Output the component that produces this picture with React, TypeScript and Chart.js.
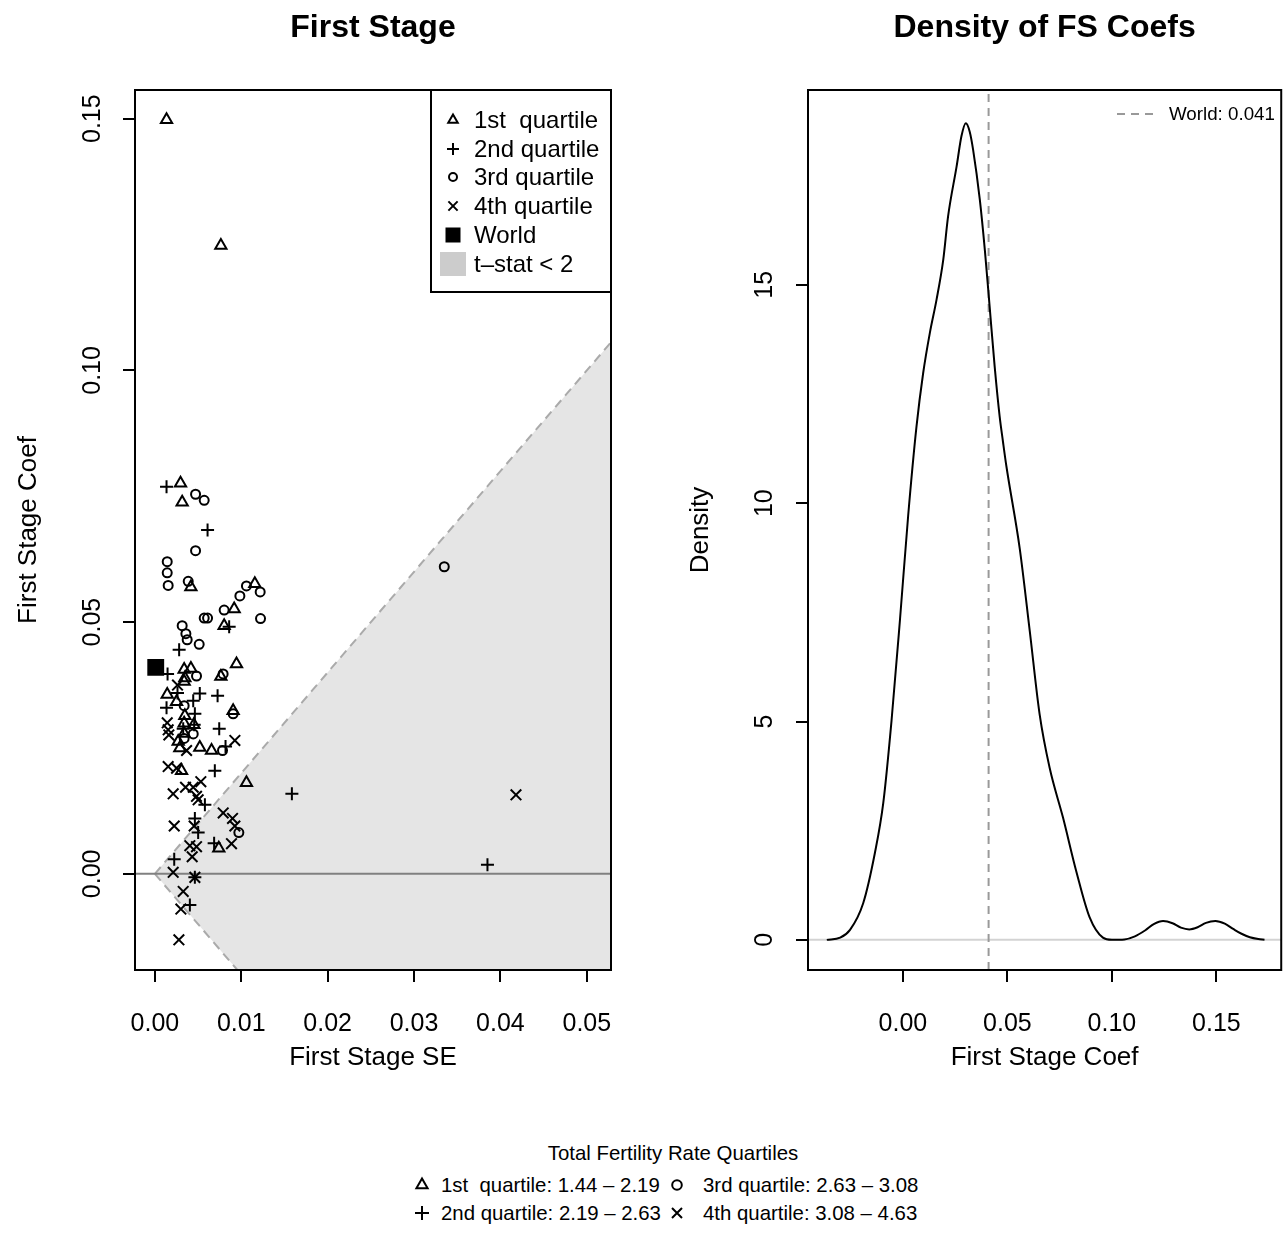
import React, { useEffect, useRef } from "react";
import { Chart, registerables } from "chart.js";

Chart.register(...registerables);

const FONT = "'Liberation Sans', Arial, Helvetica, sans-serif";
const BASE = 25;
const LAB = 26;

// ---------------- data: first stage scatter (SE, coef) ----------------
const q1SE = [0.00135, 0.00764, 0.00297, 0.00316, 0.00417, 0.01157, 0.00918, 0.00802, 0.00945, 0.00339, 0.00417, 0.00347, 0.00764, 0.00339, 0.00143, 0.00251, 0.00906, 0.00347, 0.00339, 0.00451, 0.00339, 0.0027, 0.00289, 0.0052, 0.00656, 0.00309, 0.0106, 0.0074];
const q1Coef = [0.1498, 0.1248, 0.0776, 0.0738, 0.057, 0.0576, 0.0526, 0.0493, 0.0417, 0.0406, 0.0408, 0.0389, 0.0392, 0.0382, 0.0356, 0.0342, 0.0324, 0.0314, 0.0299, 0.0296, 0.0279, 0.0263, 0.025, 0.0251, 0.0245, 0.0205, 0.0181, 0.0051];

const q2SE = [0.00135, 0.0061, 0.0086, 0.00281, 0.00147, 0.00262, 0.0052, 0.00726, 0.00444, 0.00135, 0.00463, 0.00328, 0.00745, 0.00455, 0.00818, 0.00694, 0.00579, 0.00463, 0.00501, 0.00686, 0.00224, 0.00463, 0.00405, 0.01586, 0.0385];
const q2Coef = [0.0769, 0.0683, 0.0491, 0.0445, 0.0397, 0.0359, 0.0358, 0.0354, 0.0344, 0.033, 0.0318, 0.0288, 0.0288, 0.0296, 0.0253, 0.0205, 0.0137, 0.011, 0.0082, 0.0061, 0.0029, -0.0007, -0.0062, 0.0159, 0.0018];

const q3SE = [0.00471, 0.00571, 0.00471, 0.00143, 0.00143, 0.00154, 0.00386, 0.0106, 0.00984, 0.01219, 0.00802, 0.01223, 0.00571, 0.0061, 0.00316, 0.00359, 0.00374, 0.00513, 0.00482, 0.0079, 0.00339, 0.00906, 0.00444, 0.00339, 0.00783, 0.00972, 0.0335];
const q3Coef = [0.0754, 0.0742, 0.0642, 0.062, 0.0598, 0.0573, 0.0581, 0.0572, 0.0552, 0.056, 0.0524, 0.0507, 0.0508, 0.0508, 0.0493, 0.0477, 0.0465, 0.0456, 0.0393, 0.0397, 0.0334, 0.0318, 0.0278, 0.0269, 0.0245, 0.0082, 0.061];

const q4SE = [0.00262, 0.00143, 0.00154, 0.00162, 0.00926, 0.00367, 0.00154, 0.00251, 0.00355, 0.00444, 0.00532, 0.00212, 0.00482, 0.00501, 0.00791, 0.00899, 0.00926, 0.00224, 0.00455, 0.00405, 0.00482, 0.00887, 0.00432, 0.00212, 0.00463, 0.00328, 0.00301, 0.00278, 0.0418];
const q4Coef = [0.0375, 0.03, 0.0286, 0.0276, 0.0265, 0.0245, 0.0213, 0.021, 0.0172, 0.0172, 0.0183, 0.0159, 0.0154, 0.0147, 0.0121, 0.011, 0.0095, 0.0095, 0.0095, 0.0056, 0.0054, 0.006, 0.0034, 0.0003, -0.0007, -0.0035, -0.007, -0.0131, 0.0157];

const worldSE = [0.0001];
const worldCoef = [0.041];
const WORLD_COEF = 0.041;
const T_STAT = 2;

// ---------------- data: density of first stage coefficients ----------------
const densityX = [-0.0364, -0.03, -0.0253, -0.019, -0.0134, -0.0094, -0.0054, -0.0014, 0.0025, 0.0065, 0.0097, 0.0129, 0.0161, 0.0193, 0.0216, 0.0257, 0.028, 0.0301, 0.032, 0.0336, 0.0368, 0.0392, 0.0415, 0.0439, 0.0463, 0.0479, 0.0495, 0.0559, 0.0607, 0.0654, 0.0702, 0.0766, 0.083, 0.0893, 0.0957, 0.1, 0.106, 0.111, 0.116, 0.12, 0.1245, 0.129, 0.133, 0.137, 0.141, 0.145, 0.1495, 0.154, 0.158, 0.162, 0.166, 0.17, 0.173];
const densityY = [0, 0.05, 0.23, 0.84, 1.99, 3.13, 5.04, 7.33, 9.7, 11.75, 12.98, 13.9, 14.66, 15.57, 16.56, 17.71, 18.4, 18.7, 18.5, 18.09, 16.95, 15.8, 14.5, 13.13, 11.98, 11.4, 10.85, 8.96, 7.07, 5.17, 3.94, 2.8, 1.56, 0.52, 0.05, 0.0, 0.01, 0.08, 0.22, 0.36, 0.43, 0.38, 0.28, 0.24, 0.29, 0.39, 0.43, 0.37, 0.25, 0.14, 0.06, 0.02, 0.005];

// ---------------- ticks & labels ----------------
const scatterXTicks = [0, 0.01, 0.02, 0.03, 0.04, 0.05];
const scatterYTicks = [0, 0.05, 0.1, 0.15];
const densityXTicks = [0, 0.05, 0.1, 0.15];
const densityYTicks = [0, 5, 10, 15];

const quartileLabels = ["1st  quartile", "2nd quartile", "3rd quartile", "4th quartile"];
const quartileRanges = ["1.44 – 2.19", "2.19 – 2.63", "2.63 – 3.08", "3.08 – 4.63"];
const quartileStyles = ["triangle", "cross", "circle", "crossRot"];

// axis limits
const S_X_MIN = -0.0023, S_X_MAX = 0.0528, S_Y_MIN = -0.0191, S_Y_MAX = 0.1557;
const D_X_MIN = -0.0454, D_X_MAX = 0.181, D_Y_MIN = -0.69, D_Y_MAX = 19.46;

function pts(xs: number[], ys: number[]) {
  return xs.map((x, i) => ({ x, y: ys[i] }));
}

function drawMark(ctx: CanvasRenderingContext2D, kind: string, x: number, y: number, r: number) {
  ctx.save();
  ctx.strokeStyle = "#000";
  ctx.fillStyle = "#000";
  ctx.lineWidth = 2;
  ctx.beginPath();
  if (kind === "triangle") {
    ctx.moveTo(x, y - r);
    ctx.lineTo(x + r * 0.866, y + r * 0.5);
    ctx.lineTo(x - r * 0.866, y + r * 0.5);
    ctx.closePath();
    ctx.stroke();
  } else if (kind === "cross") {
    ctx.moveTo(x - r, y); ctx.lineTo(x + r, y);
    ctx.moveTo(x, y - r); ctx.lineTo(x, y + r);
    ctx.stroke();
  } else if (kind === "circle") {
    ctx.arc(x, y, r, 0, Math.PI * 2);
    ctx.stroke();
  } else if (kind === "crossRot") {
    const d = r * 0.707;
    ctx.moveTo(x - d, y - d); ctx.lineTo(x + d, y + d);
    ctx.moveTo(x + d, y - d); ctx.lineTo(x - d, y + d);
    ctx.stroke();
  } else if (kind === "rect") {
    ctx.fillRect(x - r, y - r, 2 * r, 2 * r);
  }
  ctx.restore();
}

const boxPlugin = {
  id: "box",
  afterDraw(chart: any) {
    const { ctx, chartArea: a } = chart;
    ctx.save();
    ctx.strokeStyle = "#000";
    ctx.lineWidth = 2;
    ctx.strokeRect(a.left, a.top, a.right - a.left, a.bottom - a.top);
    ctx.restore();
  },
};

const scatterLegendPlugin = {
  id: "scatterLegend",
  afterDraw(chart: any) {
    const { ctx, chartArea: a } = chart;
    const left = 431;
    const bottom = 292;
    ctx.save();
    ctx.fillStyle = "#fff";
    ctx.fillRect(left, a.top, a.right - left, bottom - a.top);
    ctx.strokeStyle = "#000";
    ctx.lineWidth = 2;
    ctx.strokeRect(left, a.top, a.right - left, bottom - a.top);
    const rows = [120, 149, 177, 206, 235, 264];
    const symX = 453;
    const textX = 474;
    const labels = [...quartileLabels, "World", "t–stat < 2"];
    const sizes = [5.5, 6, 4, 6.5];
    for (let i = 0; i < 4; i++) drawMark(ctx, quartileStyles[i], symX, rows[i], sizes[i]);
    drawMark(ctx, "rect", symX, rows[4], 7.5);
    ctx.fillStyle = "#cccccc";
    ctx.fillRect(symX - 13, rows[5] - 12, 26, 24);
    ctx.fillStyle = "#000";
    ctx.font = `24px ${FONT}`;
    ctx.textAlign = "left";
    ctx.textBaseline = "middle";
    labels.forEach((t, i) => ctx.fillText(t, textX, rows[i] + 1));
    ctx.restore();
  },
};

const densityLegendPlugin = {
  id: "densityLegend",
  afterDraw(chart: any) {
    const { ctx } = chart;
    const y = 114;
    ctx.save();
    ctx.strokeStyle = "#999";
    ctx.lineWidth = 2;
    ctx.setLineDash([8, 6]);
    ctx.beginPath();
    ctx.moveTo(457, y);
    ctx.lineTo(494, y);
    ctx.stroke();
    ctx.setLineDash([]);
    ctx.fillStyle = "#000";
    ctx.font = `18.75px ${FONT}`;
    ctx.textAlign = "left";
    ctx.textBaseline = "middle";
    ctx.fillText(`World: ${WORLD_COEF.toFixed(3)}`, 509, y + 1);
    ctx.restore();
  },
};

function axisCommon(ticksArr: number[], fmt: (v: number) => string, size: { w?: number; h?: number }, padding: number, rot: number, titleText: string, titlePad: any) {
  return {
    type: "linear" as const,
    afterBuildTicks: (s: any) => {
      s.ticks = ticksArr.map((v) => ({ value: v }));
    },
    afterFit: (s: any) => {
      if (size.w !== undefined) s.width = size.w;
      if (size.h !== undefined) s.height = size.h;
    },
    grid: { drawOnChartArea: false, drawTicks: true, tickLength: 12, color: "#000", lineWidth: 2 },
    border: { display: false },
    ticks: {
      color: "#000",
      font: { family: FONT, size: BASE },
      padding,
      autoSkip: false,
      minRotation: rot,
      maxRotation: rot,
      crossAlign: "center" as const,
      includeBounds: false,
      callback: (v: any) => fmt(Number(v)),
    },
    title: { display: true, text: titleText, color: "#000", font: { family: FONT, size: LAB }, padding: titlePad },
  };
}

function ScatterChart() {
  const ref = useRef<HTMLCanvasElement | null>(null);
  useEffect(() => {
    if (!ref.current) return;
    const mk = (label: string, xs: number[], ys: number[], style: string, r: number, fill = "rgba(0,0,0,0)") => ({
      type: "line" as const,
      label,
      data: pts(xs, ys),
      showLine: false,
      pointStyle: style,
      pointRadius: r,
      pointBorderWidth: 2,
      pointBorderColor: "#000",
      pointBackgroundColor: fill,
      order: 1,
    });
    const chart = new Chart(ref.current, {
      type: "line",
      data: {
        datasets: [
          mk("World", worldSE, worldCoef, "rect", 10.5, "#000"),
          mk(quartileLabels[3], q4SE, q4Coef, "crossRot", 7.5),
          mk(quartileLabels[2], q3SE, q3Coef, "circle", 4.5),
          mk(quartileLabels[1], q2SE, q2Coef, "cross", 6.5),
          mk(quartileLabels[0], q1SE, q1Coef, "triangle", 6.5),
          {
            type: "line",
            label: "zero",
            data: [{ x: S_X_MIN, y: 0 }, { x: S_X_MAX, y: 0 }],
            borderColor: "#808080",
            borderWidth: 2,
            pointRadius: 0,
            fill: false,
            order: 5,
          },
          {
            type: "line",
            label: "upper bound",
            data: [{ x: 0, y: 0 }, { x: S_X_MAX, y: T_STAT * S_X_MAX }],
            borderColor: "#aaaaaa",
            borderWidth: 2,
            borderDash: [9, 6],
            pointRadius: 0,
            fill: false,
            order: 6,
          },
          {
            type: "line",
            label: "lower bound",
            data: [{ x: 0, y: 0 }, { x: -S_Y_MIN / T_STAT, y: S_Y_MIN }],
            borderColor: "#aaaaaa",
            borderWidth: 2,
            borderDash: [9, 6],
            pointRadius: 0,
            fill: false,
            order: 6,
          },
          {
            type: "line",
            label: "t-stat < 2",
            data: [
              { x: 0, y: 0 },
              { x: S_X_MAX, y: T_STAT * S_X_MAX },
              { x: S_X_MAX, y: S_Y_MIN },
              { x: -S_Y_MIN / T_STAT, y: S_Y_MIN },
            ],
            borderColor: "rgba(0,0,0,0)",
            borderWidth: 0,
            backgroundColor: "#e5e5e5",
            fill: "shape",
            pointRadius: 0,
            order: 10,
          },
        ],
      } as any,
      options: {
        animation: false,
        responsive: false,
        events: [],
        layout: { padding: { left: 0, right: 49, top: 0, bottom: 0 } },
        plugins: {
          legend: { display: false },
          tooltip: { enabled: false },
          title: {
            display: true,
            text: "First Stage",
            color: "#000",
            fullSize: false,
            font: { family: FONT, size: 32, weight: "bold" },
            padding: { top: 9, bottom: 42.6 },
          },
        },
        scales: {
          x: { ...axisCommon(scatterXTicks, (v) => v.toFixed(2), { h: 103 }, 42, 0, "First Stage SE", { top: 0, bottom: 0 }), min: S_X_MIN, max: S_X_MAX },
          y: { ...axisCommon(scatterYTicks, (v) => v.toFixed(2), { w: 135 }, 6, 90, "First Stage Coef", { top: 13, bottom: 0 }), min: S_Y_MIN, max: S_Y_MAX },
        },
      } as any,
      plugins: [boxPlugin, scatterLegendPlugin],
    });
    return () => chart.destroy();
  }, []);
  return <canvas ref={ref} width={660} height={1073} style={{ position: "absolute", left: 0, top: 0 }} />;
}

function DensityChart() {
  const ref = useRef<HTMLCanvasElement | null>(null);
  useEffect(() => {
    if (!ref.current) return;
    const chart = new Chart(ref.current, {
      type: "line",
      data: {
        datasets: [
          {
            label: "density",
            data: pts(densityX, densityY),
            borderColor: "#000",
            borderWidth: 2,
            pointRadius: 0,
            cubicInterpolationMode: "monotone",
            fill: false,
            order: 1,
          },
          {
            label: "World",
            data: [{ x: WORLD_COEF, y: D_Y_MIN }, { x: WORLD_COEF, y: D_Y_MAX }],
            borderColor: "#999999",
            borderWidth: 2,
            borderDash: [8, 6],
            pointRadius: 0,
            fill: false,
            order: 2,
          },
          {
            label: "baseline",
            data: [{ x: D_X_MIN, y: 0 }, { x: D_X_MAX, y: 0 }],
            borderColor: "#d3d3d3",
            borderWidth: 2,
            pointRadius: 0,
            fill: false,
            order: 3,
          },
        ],
      } as any,
      options: {
        animation: false,
        responsive: false,
        events: [],
        layout: { padding: { left: 0, right: 1, top: 0, bottom: 0 } },
        plugins: {
          legend: { display: false },
          tooltip: { enabled: false },
          title: {
            display: true,
            text: "Density of FS Coefs",
            color: "#000",
            fullSize: false,
            font: { family: FONT, size: 32, weight: "bold" },
            padding: { top: 9, bottom: 42.6 },
          },
        },
        scales: {
          x: { ...axisCommon(densityXTicks, (v) => v.toFixed(2), { h: 103 }, 42, 0, "First Stage Coef", { top: 0, bottom: 0 }), min: D_X_MIN, max: D_X_MAX },
          y: { ...axisCommon(densityYTicks, (v) => String(Math.round(v)), { w: 148 }, 17, 90, "Density", { top: 25, bottom: 0 }), min: D_Y_MIN, max: D_Y_MAX },
        },
      } as any,
      plugins: [boxPlugin, densityLegendPlugin],
    });
    return () => chart.destroy();
  }, []);
  return <canvas ref={ref} width={623} height={1073} style={{ position: "absolute", left: 660, top: 0 }} />;
}

function Sym({ kind }: { kind: string }) {
  const s = 18;
  const c = s / 2;
  let el: any = null;
  if (kind === "triangle") el = <polygon points={`${c},${c - 6.5} ${c + 5.6},${c + 3.3} ${c - 5.6},${c + 3.3}`} fill="none" stroke="#000" strokeWidth={2} />;
  else if (kind === "cross") el = <path d={`M${c - 7},${c}H${c + 7}M${c},${c - 7}V${c + 7}`} stroke="#000" strokeWidth={2} />;
  else if (kind === "circle") el = <circle cx={c} cy={c} r={4.8} fill="none" stroke="#000" strokeWidth={2} />;
  else el = <path d={`M${c - 5},${c - 5}L${c + 5},${c + 5}M${c + 5},${c - 5}L${c - 5},${c + 5}`} stroke="#000" strokeWidth={2} />;
  return (
    <svg width={s} height={s} style={{ display: "block" }}>
      {el}
    </svg>
  );
}

function BottomLegend() {
  const textStyle: React.CSSProperties = { position: "absolute", font: `20.4px ${FONT}`, lineHeight: "24px", color: "#000", whiteSpace: "pre" };
  const cols = [
    { symX: 422, textX: 441 },
    { symX: 677, textX: 703 },
  ];
  const rowsY = [1185, 1213];
  const items = [0, 1, 2, 3].map((i) => {
    const col = cols[Math.floor(i / 2)];
    const y = rowsY[i % 2];
    return (
      <React.Fragment key={i}>
        <div style={{ position: "absolute", left: col.symX - 9, top: y - 9 }}>
          <Sym kind={quartileStyles[i]} />
        </div>
        <div style={{ ...textStyle, left: col.textX, top: y - 12 }}>{`${quartileLabels[i]}: ${quartileRanges[i]}`}</div>
      </React.Fragment>
    );
  });
  return (
    <>
      <div style={{ ...textStyle, left: 373, width: 600, textAlign: "center", top: 1141 }}>Total Fertility Rate Quartiles</div>
      {items}
    </>
  );
}

export default function App() {
  return (
    <div style={{ position: "absolute", left: 0, top: 0, width: 1283, height: 1257, overflow: "hidden", background: "#fff" }}>
      <ScatterChart />
      <DensityChart />
      <BottomLegend />
    </div>
  );
}
